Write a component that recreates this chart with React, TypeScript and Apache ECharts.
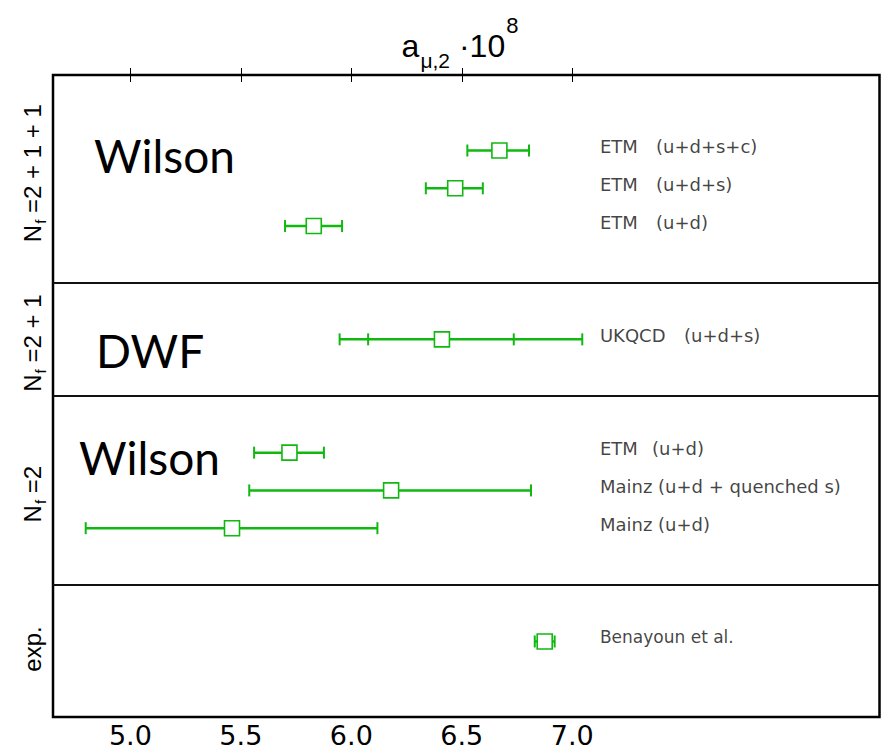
import React, { useEffect, useRef } from "react";
import * as echarts from "echarts";

// rows (y positions, top to bottom) and measurements
const rows = [2, 3, 4, 7, 10, 11, 12, 15];
const centers = [6.67, 6.47, 5.83, 6.41, 5.72, 6.18, 5.46, 6.875];
const errLow = [6.525, 6.337, 5.70, 5.947, 5.56, 5.538, 4.798, 6.83];
const errHigh = [6.804, 6.595, 5.958, 7.045, 5.876, 6.813, 6.118, 6.92];
const innerLow = [null, null, null, 6.076, null, null, null, null];
const innerHigh = [null, null, null, 6.735, null, null, null, null];
const names = ["ETM", "ETM", "ETM", "UKQCD", "ETM", "Mainz (u+d + quenched s)", "Mainz (u+d)", "Benayoun et al."];
const details = ["(u+d+s+c)", "(u+d+s)", "(u+d)", "(u+d+s)", "(u+d)", "", "", ""];
const xTicks = [5.0, 5.5, 6.0, 6.5, 7.0];
const panelSplits = [5.5, 8.5, 13.5];
const panelLabelPos = [2.6, 7.1, 11.1, 15.2];
const panelLabels = [
  "{n|N}{s|f}{n| =2 + 1 + 1}",
  "{n|N}{s|f}{n| =2 + 1}",
  "{n|N}{s|f}{n| =2}",
  "{n|exp.}",
];
const actions = [
  { text: "Wilson", x: 94, y: 155 },
  { text: "DWF", x: 96, y: 350 },
  { text: "Wilson", x: 79, y: 457 },
];

const GREEN = "#10b810";
const LABEL_X = 7.125;
const nameGap = [56, 56, 56, 84, 52, 0, 0, 0];

export default function App() {
  const ref = useRef<HTMLDivElement>(null);
  useEffect(() => {
    if (!ref.current) return;
    const chart = echarts.init(ref.current, null, { renderer: "svg" });
    const errData = rows.map((r, i) => [errLow[i], errHigh[i], r, innerLow[i] ?? NaN, innerHigh[i] ?? NaN]);
    const option: any = {
      animation: false,
      title: {
        text: "{a|a}{sub|μ,2}{a| ·10}{sup|8}",
        left: 455,
        textAlign: "center",
        top: 15,
        textStyle: {
          fontWeight: "normal",
          rich: {
            a: { fontFamily: "Liberation Sans", fontWeight: "normal", fontSize: 32, color: "#000", lineHeight: 42, verticalAlign: "bottom" },
            sub: { fontFamily: "Liberation Sans", fontWeight: "normal", fontSize: 21, color: "#000", verticalAlign: "bottom", padding: [0, 0, -9, 1] },
            sup: { fontFamily: "Liberation Sans", fontWeight: "normal", fontSize: 22, color: "#000", verticalAlign: "top", padding: [-6, 0, 0, 1] },
          },
        },
      },
      grid: {
        left: 53,
        right: 1.5,
        top: 75,
        bottom: 32,
        show: true,
        borderColor: "#000",
        borderWidth: 2.5,
      },
      xAxis: [
        {
          type: "value",
          min: 4.65,
          max: 8.39,
          position: "bottom",
          axisLine: { show: false },
          splitLine: { show: false },
          axisTick: { show: true, inside: true, length: 7, customValues: xTicks, lineStyle: { color: "#000", width: 1 } },
          axisLabel: {
            show: true,
            customValues: xTicks,
            formatter: (v: number) => v.toFixed(1),
            fontFamily: "DejaVu Sans",
            fontSize: 27,
            lineHeight: 24,
            color: "#000",
            margin: 6,
          },
        },
        {
          type: "value",
          min: 4.65,
          max: 8.39,
          position: "top",
          axisLine: { show: false },
          splitLine: { show: false },
          axisTick: { show: true, inside: true, length: 7, customValues: xTicks, lineStyle: { color: "#000", width: 1 } },
          axisLabel: { show: false },
        },
      ],
      yAxis: {
        type: "value",
        min: 0,
        max: 17,
        inverse: true,
        axisLine: { show: false },
        axisTick: { show: false },
        splitLine: { show: false },
        axisLabel: {
          show: true,
          customValues: panelLabelPos,
          rotate: 90,
          margin: 9,
          formatter: (v: number) => {
            let best = 0;
            panelLabelPos.forEach((p, i) => {
              if (Math.abs(p - v) < Math.abs(panelLabelPos[best] - v)) best = i;
            });
            return panelLabels[best];
          },
          rich: {
            n: { fontFamily: "Liberation Sans", fontSize: 24, color: "#000", lineHeight: 27, verticalAlign: "bottom" },
            s: { fontFamily: "Liberation Sans", fontSize: 15, color: "#000", verticalAlign: "bottom", padding: [0, 0, -4, 1] },
          },
        },
      },
      graphic: actions.map((a) => ({
        type: "text",
        x: a.x,
        y: a.y,
        style: {
          text: a.text,
          fontFamily: "Lato",
          fontSize: 46,
          fill: "#000",
          verticalAlign: "middle",
          align: "left",
        },
      })),
      series: [
        {
          type: "custom",
          z: 2,
          encode: { x: [0, 1], y: 2 },
          data: errData,
          renderItem: (params: any, api: any) => {
            const y = api.value(2);
            const lo = api.coord([api.value(0), y]);
            const hi = api.coord([api.value(1), y]);
            const cap = 6;
            const style = { stroke: GREEN, lineWidth: 2.5 };
            const capStyle = { stroke: GREEN, lineWidth: 2 };
            const children: any[] = [
              { type: "line", shape: { x1: lo[0], y1: lo[1], x2: hi[0], y2: hi[1] }, style },
              { type: "line", shape: { x1: lo[0], y1: lo[1] - cap, x2: lo[0], y2: lo[1] + cap }, style: capStyle },
              { type: "line", shape: { x1: hi[0], y1: hi[1] - cap, x2: hi[0], y2: hi[1] + cap }, style: capStyle },
            ];
            const il = api.value(3);
            const ih = api.value(4);
            if (!isNaN(il) && !isNaN(ih)) {
              const a = api.coord([il, y]);
              const b = api.coord([ih, y]);
              children.push({ type: "line", shape: { x1: a[0], y1: a[1] - cap, x2: a[0], y2: a[1] + cap }, style: capStyle });
              children.push({ type: "line", shape: { x1: b[0], y1: b[1] - cap, x2: b[0], y2: b[1] + cap }, style: capStyle });
            }
            return { type: "group", children };
          },
        },
        {
          type: "scatter",
          z: 3,
          symbol: "rect",
          symbolSize: 15,
          itemStyle: { color: "#fff", borderColor: GREEN, borderWidth: 1.6, opacity: 1 },
          data: rows.map((r, i) => [centers[i], r]),
          markLine: {
            silent: true,
            symbol: ["none", "none"],
            label: { show: false },
            lineStyle: { color: "#111", width: 2.2, type: "solid" },
            data: panelSplits.map((s) => ({ yAxis: s })),
          },
        },
        {
          type: "scatter",
          z: 3,
          symbolSize: 0,
          silent: true,
          data: rows.map((r, i) => ({
            value: [LABEL_X, r],
            label: {
              formatter: details[i]
                ? `{a|${names[i]}}{b|${details[i]}}`
                : `{a0|${names[i]}}`,
              rich: {
                a: { fontFamily: "DejaVu Sans", fontSize: 18, color: "#111", width: nameGap[i] },
                a0: { fontFamily: "DejaVu Sans", fontSize: i === 7 ? 17 : 18, color: "#111" },
                b: { fontFamily: "DejaVu Sans", fontSize: 18, color: "#111" },
              },
            },
          })),
          label: {
            show: true,
            position: "right",
            distance: 0,
            offset: [0, -4],
          },
        },
      ],
    };
    chart.setOption(option);
    return () => chart.dispose();
  }, []);
  return <div ref={ref} style={{ width: 881, height: 749, position: "absolute", left: 0, top: 0 }} />;
}
